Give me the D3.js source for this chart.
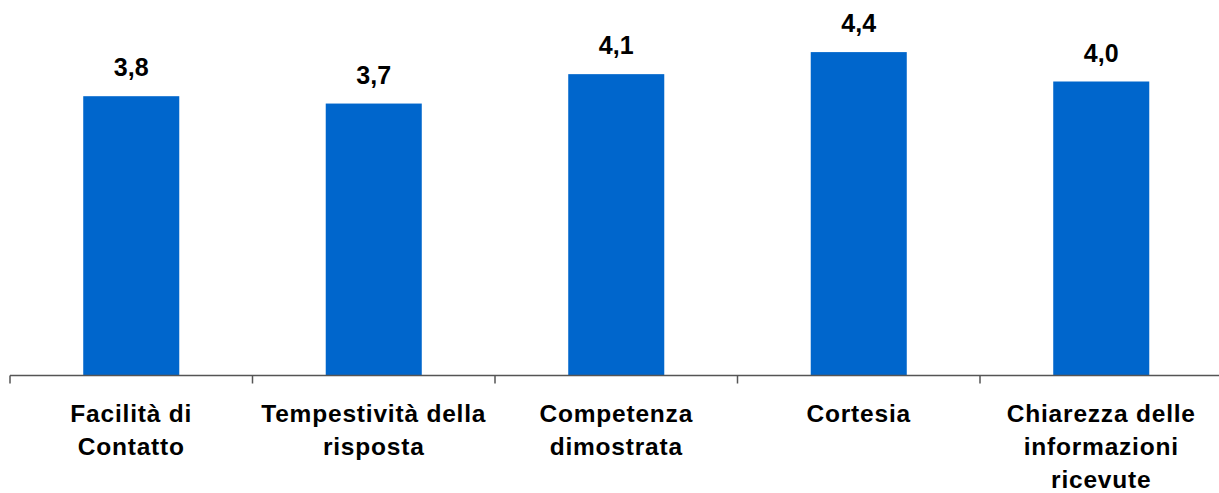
<!DOCTYPE html>
<html>
<head>
<meta charset="utf-8">
<script src="https://cdn.jsdelivr.net/npm/d3@7"></script>
<style>
  body { margin: 0; background: #fff; }
  text { font-family: "Liberation Sans", Arial, sans-serif; font-weight: bold; fill: #000; }
</style>
</head>
<body>
<div id="vis"></div>
<script>
// categories (line breaks as in the original)
var categories = [
    ["Facilità di", "Contatto"],
    ["Tempestività della", "risposta"],
    ["Competenza", "dimostrata"],
    ["Cortesia"],
    ["Chiarezza delle", "informazioni", "ricevute"]
];
var values = [3.8, 3.7, 4.1, 4.4, 4.0];
var valueLabels = ["3,8", "3,7", "4,1", "4,4", "4,0"];

var w = 1219,
    h = 493,
    baseY = 375.5;

var x = d3.scaleBand()
    .domain(d3.range(categories.length))
    .range([10, 1222.5])
    .paddingInner(0.604)
    .paddingOuter(0.302);

var y = d3.scaleLinear().domain([0, 5]).range([baseY, 8]);

var vis = d3.select("#vis")
    .append("svg")
    .attr("width", w)
    .attr("height", h);

// bars
vis.selectAll(".bar")
    .data(values)
    .enter().append("rect")
    .attr("class", "bar")
    .attr("x", function(d, i) { return x(i); })
    .attr("y", function(d) { return y(d); })
    .attr("width", x.bandwidth())
    .attr("height", function(d) { return baseY - y(d); })
    .attr("fill", "#0066CC");

// value labels
vis.selectAll(".vLabel")
    .data(values)
    .enter().append("text")
    .attr("class", "vLabel")
    .attr("x", function(d, i) { return x(i) + x.bandwidth() / 2; })
    .attr("y", function(d) { return y(d) - 20; })
    .attr("text-anchor", "middle")
    .style("font-size", "25px")
    .text(function(d, i) { return valueLabels[i]; });

// axis line + ticks at band boundaries
var step = x.step();
vis.append("line")
    .attr("x1", 10).attr("x2", w)
    .attr("y1", baseY).attr("y2", baseY)
    .attr("stroke", "#555").attr("stroke-width", 1.5);

vis.selectAll(".xTicks")
    .data(d3.range(categories.length + 1))
    .enter().append("line")
    .attr("class", "xTicks")
    .attr("x1", function(d) { return 10 + d * step; })
    .attr("x2", function(d) { return 10 + d * step; })
    .attr("y1", baseY)
    .attr("y2", baseY + 8)
    .attr("stroke", "#555").attr("stroke-width", 1.5);

// category labels
var cat = vis.selectAll(".xLabel")
    .data(categories)
    .enter().append("text")
    .attr("class", "xLabel")
    .attr("text-anchor", "middle")
    .style("font-size", "24.5px")
    .style("letter-spacing", "0.8px")
    .attr("transform", function(d, i) { return "translate(" + (x(i) + x.bandwidth() / 2) + ",422)"; });

cat.selectAll("tspan")
    .data(function(d) { return d; })
    .enter().append("tspan")
    .attr("x", 0)
    .attr("y", function(d, i) { return i * 32.8; })
    .text(String);
</script>
</body>
</html>
